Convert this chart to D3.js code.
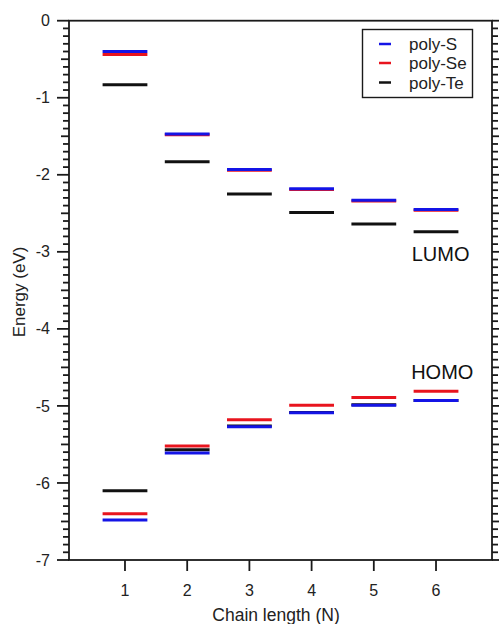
<!DOCTYPE html>
<html>
<head>
<meta charset="utf-8">
<script src="https://cdn.jsdelivr.net/npm/d3@7/dist/d3.min.js"></script>
<style>
  html, body { margin: 0; padding: 0; background: #fff; }
  svg { display: block; font-family: Arial, "Liberation Sans", sans-serif; }
</style>
</head>
<body>
<svg id="chart" width="499" height="624"></svg>
<script>
const chainLengths = [1, 2, 3, 4, 5, 6];
const seriesNames = ["poly-S", "poly-Se", "poly-Te"];
const seriesColors = ["#1414e6", "#e8141e", "#111111"];

const lumoS  = [-0.40, -1.47, -1.93, -2.18, -2.33, -2.45];
const lumoSe = [-0.44, -1.48, -1.94, -2.19, -2.34, -2.46];
const lumoTe = [-0.83, -1.83, -2.25, -2.49, -2.64, -2.74];

const homoS  = [-6.48, -5.61, -5.27, -5.09, -4.99, -4.93];
const homoSe = [-6.40, -5.52, -5.18, -4.99, -4.89, -4.81];
const homoTe = [-6.10, -5.57, -5.26, -5.085, -4.985, -4.93];

const yMajorTicks = [0, -1, -2, -3, -4, -5, -6, -7];
const xTicks = [1, 2, 3, 4, 5, 6];

const svg = d3.select("#chart");
const L = 69, R = 492, T = 20.7, B = 560;

const x = d3.scaleLinear().domain([0.1, 6.9]).range([L, R]);
const y = d3.scaleLinear().domain([-7, 0]).range([B, T]);
const halfW = 0.36;
const axisColor = "#1a1a1a";

// y ticks drawn from the scale (minor every 0.1, medium at .5, major at integers)
const tickVals = d3.range(0, 71).map(i => ({ v: -i / 10, kind: i % 10 === 0 ? 12 : (i % 5 === 0 ? 8 : 6) }));
const tg = svg.append("g").attr("stroke", axisColor).attr("stroke-width", 1.8);
tg.selectAll(".tl").data(tickVals).enter().append("line").attr("class", "tl")
  .attr("x1", L).attr("x2", d => L - d.kind)
  .attr("y1", d => y(d.v)).attr("y2", d => y(d.v));
tg.selectAll(".tr").data(tickVals).enter().append("line").attr("class", "tr")
  .attr("x1", R).attr("x2", d => R + d.kind)
  .attr("y1", d => y(d.v)).attr("y2", d => y(d.v));
tg.selectAll(".tb").data(xTicks).enter().append("line").attr("class", "tb")
  .attr("x1", d => x(d)).attr("x2", d => x(d))
  .attr("y1", B).attr("y2", B + 11);

svg.append("g").selectAll("text").data(yMajorTicks).enter().append("text")
  .attr("x", L - 19).attr("y", d => y(d)).attr("dy", "0.35em").attr("text-anchor", "end")
  .attr("font-size", 16).attr("fill", "#222").text(d => String(d));
svg.append("g").selectAll("text").data(xTicks).enter().append("text")
  .attr("x", d => x(d)).attr("y", 596).attr("text-anchor", "middle")
  .attr("font-size", 16).attr("fill", "#222").text(d => String(d));

// frame
svg.append("rect").attr("x", L).attr("y", T).attr("width", R - L).attr("height", B - T)
  .attr("fill", "none").attr("stroke", axisColor).attr("stroke-width", 1.8);

// level lines
const allSeries = [
  { name: "poly-Te", color: seriesColors[2], lumo: lumoTe, homo: homoTe },
  { name: "poly-Se", color: seriesColors[1], lumo: lumoSe, homo: homoSe },
  { name: "poly-S",  color: seriesColors[0], lumo: lumoS,  homo: homoS }
];
const levels = svg.append("g");
allSeries.forEach(s => {
  ["lumo", "homo"].forEach(k => {
    levels.selectAll(null).data(chainLengths.map((n, i) => ({ n, v: s[k][i] })))
      .enter().append("line")
      .attr("x1", d => x(d.n - halfW)).attr("x2", d => x(d.n + halfW))
      .attr("y1", d => y(d.v)).attr("y2", d => y(d.v))
      .attr("stroke", s.color).attr("stroke-width", 3);
  });
});

// annotations
svg.append("text").attr("x", x(5.61)).attr("y", 260.7).attr("font-size", 20).attr("fill", "#111").text("LUMO");
svg.append("text").attr("x", x(5.6)).attr("y", 379.3).attr("font-size", 20).attr("fill", "#111").text("HOMO");

// axis titles
svg.append("text").attr("x", 276).attr("y", 621).attr("text-anchor", "middle")
  .attr("font-size", 17.5).attr("fill", "#222").text("Chain length (N)");
svg.append("text").attr("transform", "translate(25,292) rotate(-90)").attr("text-anchor", "middle")
  .attr("font-size", 17).attr("fill", "#222").text("Energy (eV)");

// legend
const lg = svg.append("g");
lg.append("rect").attr("x", 362.5).attr("y", 29.5).attr("width", 110).attr("height", 68)
  .attr("fill", "#fff").attr("stroke", axisColor).attr("stroke-width", 1.4);
const legendRows = [44, 63, 82.5];
seriesNames.forEach((nm, i) => {
  lg.append("line").attr("x1", 379).attr("x2", 391).attr("y1", legendRows[i]).attr("y2", legendRows[i])
    .attr("stroke", seriesColors[i]).attr("stroke-width", 2.5);
  lg.append("text").attr("x", 409).attr("y", legendRows[i] + 6).attr("font-size", 17)
    .attr("fill", "#222").text(nm);
});
</script>
</body>
</html>
